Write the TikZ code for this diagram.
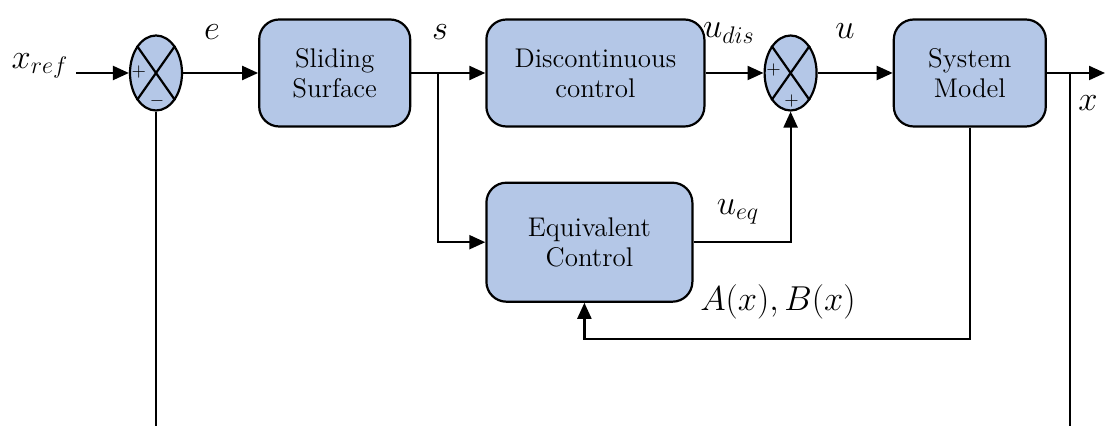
\documentclass[tikz,border=0pt]{standalone}
\usepackage{xcolor}
\usepackage{tikz}
\usetikzlibrary{arrows.meta,positioning,shapes.geometric,calc}
\definecolor{blockfill}{HTML}{B4C7E7}
\newcommand{\signfont}{\fontsize{9}{9}\selectfont}

\begin{document}
\begin{tikzpicture}[
  x=0.5pt,y=-0.5pt,
  every node/.style={font=\fontsize{16.5}{18}\selectfont},
  block/.style={draw,line width=1.1pt,fill=blockfill,rounded corners=10pt,align=center,minimum height=53.5pt,font=\fontsize{13.5}{15}\selectfont},
  sumj/.style={draw,line width=1.1pt,fill=blockfill,ellipse,minimum width=26pt,minimum height=37.5pt,inner sep=0pt},
  sign/.style={font=\signfont,inner sep=0pt},
  arr/.style={-{Triangle[length=8pt,width=7pt]},line width=1.1pt},
  wire/.style={line width=1.1pt}
]
\useasboundingbox (0,0) rectangle (1105,426);
% forward path
\node[sumj] (s1) at (156,73) {};
\node[block,minimum width=75.5pt,right=37.5pt of s1] (ss) {Sliding\\Surface};
\node[block,minimum width=109pt,right=37pt of ss] (dis) {Discontinuous\\control};
\node[sumj,right=29pt of dis] (s2) {};
\node[block,minimum width=76pt,right=37.5pt of s2] (sm) {System\\Model};
\node[block,minimum width=103pt,minimum height=59.5pt,below=27pt of dis.south west,anchor=north west] (eq) {Equivalent\\Control};
% crosses and signs in the summing points
\draw[wire] (s1.north east) -- (s1.south west) (s1.north west) -- (s1.south east);
\draw[wire] (s2.north east) -- (s2.south west) (s2.north west) -- (s2.south east);
\node[sign] (s1a) at ($(s1.west)+(10,-1)$) {$+$};
\node[sign] (s1b) at ($(s1.south)+(1,-11)$) {$-$};
\node[sign] (s2a) at ($(s2.west)+(10,-3)$) {$+$};
\node[sign] (s2b) at ($(s2.south)+(1,-11)$) {$+$};
% helper points
\coordinate (xin) at (76,73);
\coordinate (sbr) at (438,73);
\coordinate (xbr) at (1070,73);
\coordinate (xout) at (1105,73);
\coordinate (bot) at (0,426);
\coordinate (fb) at (0,339);
% connectors
\draw[arr] (xin) -- (s1);
\draw[arr] (s1) -- (ss);
\draw[arr] (ss) -- (dis);
\draw[arr] (dis) -- (s2);
\draw[arr] (s2) -- (sm);
\draw[arr] (sm) -- (xout);
\draw[arr] (sbr) |- (eq.west);
\draw[arr] (eq.east) -| (s2.south);
\draw[arr] (sm.south) -- (sm.south |- fb) -| ($(eq.south)+(-5,0)$);
\draw[wire] (s1.south) -- (s1.south |- bot);
\draw[wire] (xbr) -- (xbr |- bot);
% signal names
\node (lxref) at (40,66) {$x_{ref}$};
\node (le) at (212,32) {$e$};
\node (ls) at (440,32) {$s$};
\node (ludis) at (729,33) {$u_{dis}$};
\node (lu) at (845,31) {$u$};
\node (lueq) at (738,212) {$u_{eq}$};
\node (lab) at (778,302) {$A(x),B(x)$};
\node (lx) at (1088,103) {$x$};
\end{tikzpicture}
\end{document}
